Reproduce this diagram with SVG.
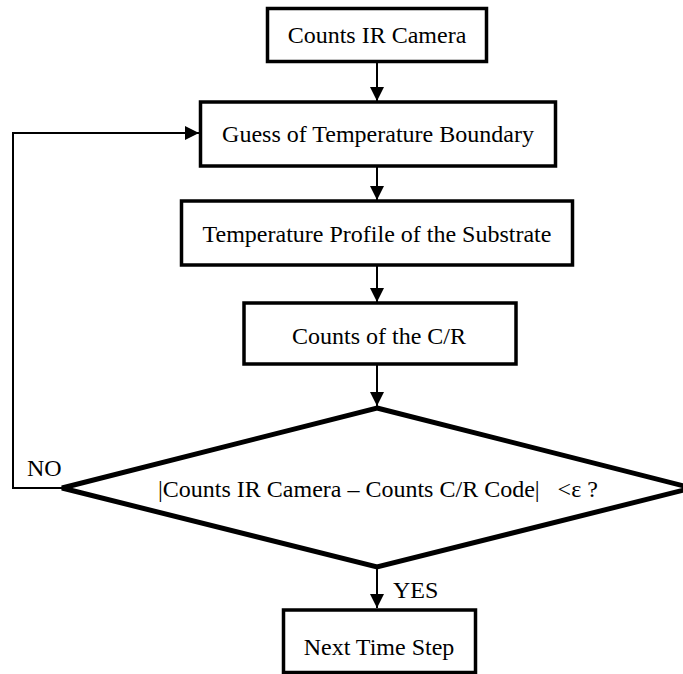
<svg xmlns="http://www.w3.org/2000/svg" width="683" height="674" viewBox="0 0 683 674">
<style>
.box{fill:#fff;stroke:#000;stroke-width:3.5}
.dia{fill:#fff;stroke:#000;stroke-width:5;stroke-linejoin:miter}
.t{font-family:"Liberation Serif","Times New Roman",serif;font-size:24px;fill:#000}
.c{text-anchor:middle}
.ln{fill:none;stroke:#000;stroke-width:2}
</style>
<defs>
<marker id="ah" markerUnits="userSpaceOnUse" markerWidth="14" markerHeight="14" viewBox="0 0 14 14" refX="14" refY="7" orient="auto">
<path d="M0,0 L14,7 L0,14 Z" fill="#000"/>
</marker>
</defs>
<g id="connectors">
<line class="ln" x1="377" y1="63" x2="377" y2="101" marker-end="url(#ah)"/>
<line class="ln" x1="377" y1="167" x2="377" y2="200" marker-end="url(#ah)"/>
<line class="ln" x1="377" y1="266" x2="377" y2="302" marker-end="url(#ah)"/>
<line class="ln" x1="377" y1="364" x2="377" y2="406" marker-end="url(#ah)"/>
<line class="ln" x1="377" y1="567" x2="377" y2="608" marker-end="url(#ah)"/>
<polyline class="ln" points="62,488 13,488 13,133 199,133" marker-end="url(#ah)"/>
<text class="t" x="27" y="476">NO</text>
<text class="t" x="393" y="598">YES</text>
</g>
<g id="n1">
<rect class="box" x="267.5" y="8.5" width="219" height="53"/>
<text class="t c" x="377" y="43">Counts IR Camera</text>
</g>
<g id="n2">
<rect class="box" x="200.5" y="102" width="355" height="64"/>
<text class="t c" x="378" y="142">Guess of Temperature Boundary</text>
</g>
<g id="n3">
<rect class="box" x="181.5" y="201" width="391" height="64"/>
<text class="t c" x="377" y="242">Temperature Profile of the Substrate</text>
</g>
<g id="n4">
<rect class="box" x="244" y="303" width="272" height="61"/>
<text class="t c" x="379" y="344">Counts of the C/R</text>
</g>
<g id="n5">
<polygon class="dia" points="377,408 692,488 377,567 62,488"/>
<text class="t" x="158" y="497" xml:space="preserve">|Counts IR Camera – Counts C/R Code|   &lt;ε ?</text>
</g>
<g id="n6">
<rect class="box" x="283.5" y="610" width="192" height="62.5"/>
<text class="t c" x="379" y="655">Next Time Step</text>
</g>
</svg>
